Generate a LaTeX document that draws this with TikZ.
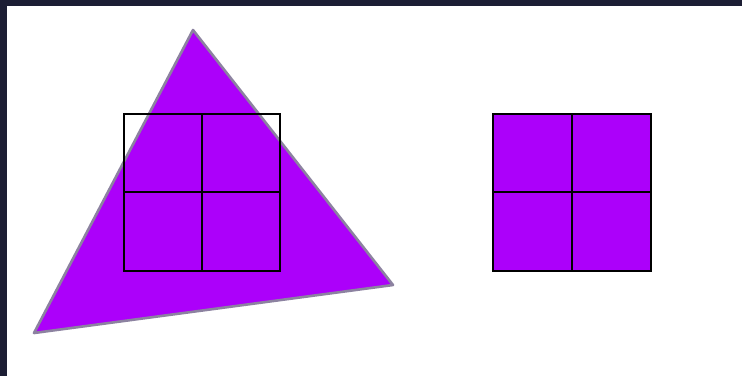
\documentclass[tikz,border=0pt]{standalone}
\definecolor{tripurple}{RGB}{172,0,250}
\definecolor{triedge}{RGB}{140,130,160}
\definecolor{frameblue}{RGB}{28,30,52}
\begin{document}
\begin{tikzpicture}[x=1pt, y=-1pt]

  % --- 背景与边框 ---
  \fill[frameblue] (0,0) rectangle (742,376);
  \fill[white] (7,6) rectangle (742,376);
  \useasboundingbox (0,0) rectangle (742,376);

  \tikzset{cellgrid/.style={draw=black, line width=1.8pt}}

  % --- 三角形顶点 ---
  \coordinate (top) at (193,30);
  \coordinate (bl) at (34,333);
  \coordinate (br) at (393,285);

  % 三角形
  \filldraw[fill=tripurple, draw=triedge, line width=2.6pt, line join=round]
      (top) -- (bl) -- (br) -- cycle;

  % --- 左边的 2x2 网格 (画在三角形上面) ---
  \draw[cellgrid] (124,114) rectangle (280,271);
  \draw[cellgrid] (202,114) -- (202,271);
  \draw[cellgrid] (124,192) -- (280,192);

  % --- 右边填充好的 2x2 网格 ---
  \filldraw[cellgrid, fill=tripurple] (493,114) rectangle (651,271);
  \draw[cellgrid] (572,114) -- (572,271);
  \draw[cellgrid] (493,192) -- (651,192);

\end{tikzpicture}
\end{document}
